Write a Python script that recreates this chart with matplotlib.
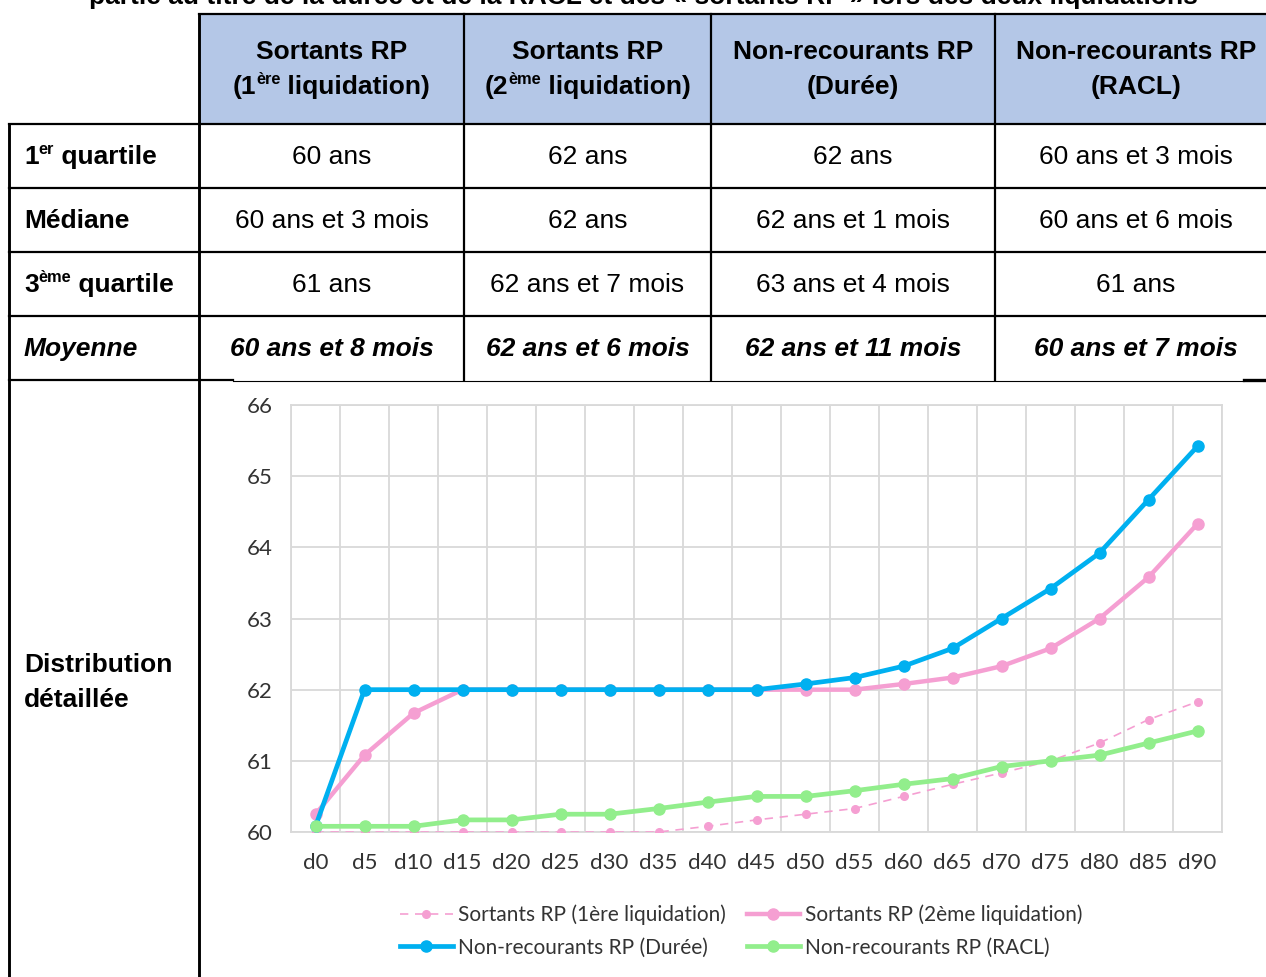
import matplotlib
matplotlib.use("Agg")
import matplotlib.pyplot as plt

# ---- data ----
days = ['d0', 'd5', 'd10', 'd15', 'd20', 'd25', 'd30', 'd35', 'd40', 'd45',
        'd50', 'd55', 'd60', 'd65', 'd70', 'd75', 'd80', 'd85', 'd90']
sortants_1ere = [60, 60, 60, 60, 60, 60, 60, 60, 60.08, 60.17,
                 60.25, 60.33, 60.5, 60.67, 60.83, 61.0, 61.25, 61.58, 61.83]
sortants_2eme = [60.25, 61.08, 61.67, 62, 62, 62, 62, 62, 62, 62,
                 62, 62, 62.08, 62.17, 62.33, 62.58, 63.0, 63.58, 64.33]
non_rec_duree = [60.08, 62, 62, 62, 62, 62, 62, 62, 62, 62,
                 62.08, 62.17, 62.33, 62.58, 63.0, 63.42, 63.92, 64.67, 65.42]
non_rec_racl = [60.08, 60.08, 60.08, 60.17, 60.17, 60.25, 60.25, 60.33, 60.42, 60.5,
                60.5, 60.58, 60.67, 60.75, 60.92, 61.0, 61.08, 61.25, 61.42]
series_labels = ['Sortants RP (1ère liquidation)', 'Sortants RP (2ème liquidation)',
                 'Non-recourants RP (Durée)', 'Non-recourants RP (RACL)']

title = "partie au titre de la durée et de la RACL et des « sortants RP » lors des deux liquidations"

# header pieces: (text, superscript?)
headers = [
    [[("Sortants RP", False)], [("(1", False), ("ère", True), (" liquidation)", False)]],
    [[("Sortants RP", False)], [("(2", False), ("ème", True), (" liquidation)", False)]],
    [[("Non-recourants RP", False)], [("(Durée)", False)]],
    [[("Non-recourants RP", False)], [("(RACL)", False)]],
]
row_labels = [
    [("1", False), ("er", True), (" quartile", False)],
    [("Médiane", False)],
    [("3", False), ("ème", True), (" quartile", False)],
    [("Moyenne", False)],
]
q1 = ["60 ans", "62 ans", "62 ans", "60 ans et 3 mois"]
mediane = ["60 ans et 3 mois", "62 ans", "62 ans et 1 mois", "60 ans et 6 mois"]
q3 = ["61 ans", "62 ans et 7 mois", "63 ans et 4 mois", "61 ans"]
moyenne = ["60 ans et 8 mois", "62 ans et 6 mois", "62 ans et 11 mois", "60 ans et 7 mois"]

W, H = 1266, 977
fig = plt.figure(figsize=(W / 100, H / 100), dpi=100)
renderer = fig.canvas.get_renderer()

ax_t = fig.add_axes([0, 0, 1, 1])
ax_t.set_xlim(0, W)
ax_t.set_ylim(H, 0)
ax_t.axis('off')

TFONT = 'Liberation Sans'
FS = 19


def rich(x, y, pieces, weight='bold', style='normal', ha='center', size=FS):
    # draw a line of text made of pieces, some of them superscript
    arts = []
    total = 0
    for txt, sup in pieces:
        fs = size * 0.62 if sup else size
        yy = y - (size * 1.389 * 0.36 if sup else 0)
        t = ax_t.text(0, yy, txt, fontsize=fs, fontfamily=TFONT, fontweight=weight,
                      fontstyle=style, ha='left', va='baseline')
        w = t.get_window_extent(renderer).width
        arts.append((t, w))
        total += w
    x0 = x - total / 2 if ha == 'center' else x
    for t, w in arts:
        t.set_x(x0)
        x0 += w


# title, cut by the top edge
ax_t.text(643, 4, title, ha='center', va='baseline', fontsize=FS,
          fontfamily=TFONT, fontweight='bold')

# header fill
ax_t.fill_between([199, W], 14, 124, color='#B4C7E7', zorder=0, lw=0)

# grid lines of the table
lw = 1.6
ax_t.plot([199, W], [14, 14], color='black', lw=lw)
for yy in [124, 188, 252, 316]:
    ax_t.plot([9, W], [yy, yy], color='black', lw=lw)
ax_t.plot([9, 233], [380, 380], color='black', lw=lw)
ax_t.plot([1244, W], [380, 380], color='black', lw=lw * 1.5)
ax_t.plot([233, 1244], [380.5, 380.5], color='black', lw=0.8)
ax_t.plot([9, 9], [124, H], color='black', lw=lw * 1.3)
ax_t.plot([199, 199], [14, H], color='black', lw=lw * 1.3)
for xx in [464, 711, 995]:
    ax_t.plot([xx, xx], [14, 380], color='black', lw=lw)

col_x = [331.5, 587.5, 853, 1136]
for cx, hdr in zip(col_x, headers):
    rich(cx, 59, hdr[0])
    rich(cx, 94, hdr[1])

row_base = [164, 228, 292, 356]
for i, lab in enumerate(row_labels):
    rich(24, row_base[i], lab, style='italic' if i == 3 else 'normal', ha='left')

for i, vals in enumerate([q1, mediane, q3, moyenne]):
    for cx, v in zip(col_x, vals):
        if i == 3:
            rich(cx, row_base[i], [(v, False)], weight='bold', style='italic')
        else:
            rich(cx, row_base[i], [(v, False)], weight='normal')

rich(24, 672, [("Distribution", False)], ha='left')
rich(24, 707, [("détaillée", False)], ha='left')

# ---- chart ----
CFONT = 'Lato'
ax = fig.add_axes([291 / W, 1 - 832 / H, (1222 - 291) / W, (832 - 405) / H])
x = list(range(len(days)))
pink = '#F59FD2'
blue = '#00B0F0'
green = '#92EE8C'
ax.plot(x, sortants_1ere, color=pink, lw=1.2, ls=(0, (5, 4)), marker='o', ms=5.5,
        label=series_labels[0], zorder=3)
ax.plot(x, sortants_2eme, color=pink, lw=3.2, marker='o', ms=8,
        label=series_labels[1], zorder=4)
ax.plot(x, non_rec_duree, color=blue, lw=3.4, marker='o', ms=8,
        label=series_labels[2], zorder=5)
ax.plot(x, non_rec_racl, color=green, lw=3.4, marker='o', ms=8,
        label=series_labels[3], zorder=6)

ax.set_xlim(-0.5, len(days) - 0.5)
ax.set_ylim(60, 66)
ax.set_yticks(range(60, 67))
ax.set_xticks(x)
ax.set_xticklabels(days)
ax.set_xticks([i - 0.5 for i in range(len(days) + 1)], minor=True)
ax.grid(which='minor', axis='x', color='#D9D9D9', lw=1.3)
ax.grid(which='major', axis='y', color='#D9D9D9', lw=1.3)
ax.set_axisbelow(True)
for s in ax.spines.values():
    s.set_color('#D9D9D9')
    s.set_linewidth(1.3)
ax.tick_params(which='both', length=0)
ax.tick_params(axis='x', pad=15)
ax.tick_params(axis='y', pad=13)
for lbl in ax.get_xticklabels() + ax.get_yticklabels():
    lbl.set_fontfamily(CFONT)
    lbl.set_fontsize(16)
    lbl.set_color('#333333')

handles, labels = ax.get_legend_handles_labels()
order = [0, 2, 1, 3]
leg = ax.legend([handles[i] for i in order], [labels[i] for i in order], ncol=2,
                loc='center', bbox_to_anchor=(741 / W, 1 - 931 / H),
                bbox_transform=fig.transFigure, frameon=False,
                handlelength=2.55, handletextpad=0.25, columnspacing=1.0,
                labelspacing=0.6, prop={'family': CFONT, 'size': 15})
for t in leg.get_texts():
    t.set_color('#333333')

fig.savefig('out.png', dpi=100)
